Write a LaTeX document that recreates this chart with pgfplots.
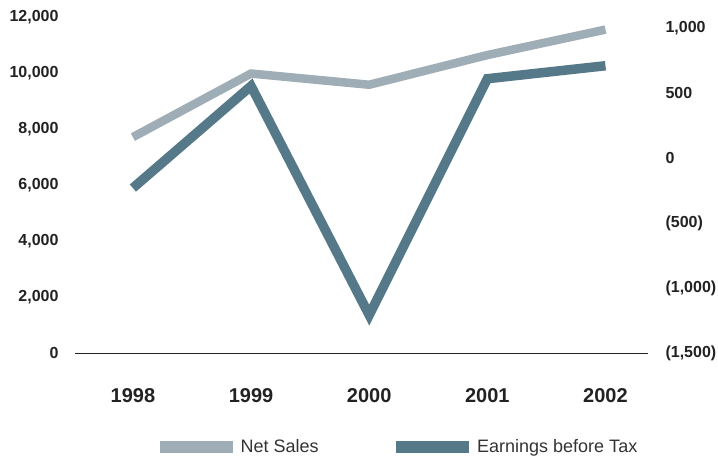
\documentclass[border=0pt]{standalone}
\usepackage{pgfplots}
\pgfplotsset{compat=1.18}
\usepackage{fontspec}
\setmainfont{Liberation Sans}
\definecolor{netc}{HTML}{9FADB7}
\definecolor{ebtc}{HTML}{557988}
\definecolor{txt}{HTML}{222222}
\begin{document}
\begin{tikzpicture}[x=1pt,y=1pt]
\useasboundingbox (0,0) rectangle (718,462);
\begin{axis}[
  at={(75pt,109pt)}, anchor=south west, scale only axis,
  width=573pt, height=336pt,
  xmin=-0.49, xmax=4.36, ymin=0, ymax=12000,
  axis x line*=bottom, axis y line*=left,
  y axis line style={draw=none},
  x axis line style={line width=0.9pt, txt, -},
  major tick length=0pt,
  scaled y ticks=false,
  xtick={0,1,2,3,4}, xticklabels={1998,1999,2000,2001,2002},
  ytick={0,2000,4000,6000,8000,10000,12000},
  yticklabels={0,{2,000},{4,000},{6,000},{8,000},{10,000},{12,000}},
  yticklabel style={font=\bfseries\fontsize{16}{16}\selectfont, text=txt, xshift=-13pt},
  xticklabel style={font=\bfseries\fontsize{20}{20}\selectfont, text=txt, yshift=-32pt},
  legend columns=2,
  legend image code/.code={\draw[#1, line width=11.5pt] (0pt,0pt) -- (73pt,0pt);},
  legend style={at={(0.1378,-0.2798)}, anchor=west, draw=none, fill=none, inner sep=0pt,
    font=\fontsize{18}{18}\selectfont, text=black!80,
    /tikz/every even column/.append style={column sep=70pt}},
]
\addplot[netc, line width=8.5pt] coordinates {(0,7710) (1,9980) (2,9580) (3,10640) (4,11550)};
\addlegendentry{Net Sales}
\addlegendimage{ebtc, line width=9.5pt}
\addlegendentry{Earnings before Tax}
\end{axis}
\begin{axis}[
  at={(75pt,109pt)}, anchor=south west, scale only axis,
  width=573pt, height=336pt,
  xmin=-0.49, xmax=4.36, ymin=-1500, ymax=1085,
  axis x line=none, axis y line*=right,
  y axis line style={draw=none},
  major tick length=0pt,
  scaled y ticks=false,
  ytick={-1500,-1000,-500,0,500,1000},
  yticklabels={{(1,500)},{(1,000)},{(500)},0,500,{1,000}},
  yticklabel style={font=\bfseries\fontsize{16}{16}\selectfont, text=txt, xshift=14pt},
]
\addplot[ebtc, line width=9.5pt] coordinates {(0,-231) (1,554) (2,-1208) (3,610) (4,710)};
\end{axis}
\end{tikzpicture}
\end{document}
